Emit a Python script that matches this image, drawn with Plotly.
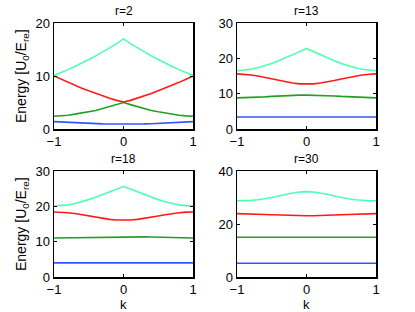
import plotly.graph_objects as go

k = [-1.0, -0.9, -0.8, -0.7, -0.6, -0.5, -0.4, -0.3, -0.2, -0.1, 0.0,
     0.1, 0.2, 0.3, 0.4, 0.5, 0.6, 0.7, 0.8, 0.9, 1.0]

titles = ["r=2", "r=13", "r=18", "r=30"]

# r = 2
r2_band1 = [1.4, 1.32, 1.25, 1.17, 1.1, 1.05, 1.0, 0.96, 0.93, 0.91, 0.9,
            0.91, 0.93, 0.96, 1.0, 1.05, 1.1, 1.17, 1.25, 1.32, 1.4]
r2_band2 = [2.4, 2.47, 2.6, 2.8, 3.0, 3.25, 3.5, 3.85, 4.2, 4.6, 5.0,
            4.6, 4.2, 3.85, 3.5, 3.25, 3.0, 2.8, 2.6, 2.47, 2.4]
r2_band3 = [10.0, 9.4, 8.8, 8.25, 7.7, 7.2, 6.7, 6.25, 5.8, 5.4, 5.1,
            5.4, 5.8, 6.25, 6.7, 7.2, 7.7, 8.25, 8.8, 9.4, 10.0]
r2_band4 = [10.1, 10.6, 11.2, 11.8, 12.4, 13.1, 13.8, 14.5, 15.3, 16.1, 17.0,
            16.1, 15.3, 14.5, 13.8, 13.1, 12.4, 11.8, 11.2, 10.6, 10.1]

# r = 13
r13_band1 = [3.4, 3.4, 3.4, 3.4, 3.4, 3.4, 3.4, 3.4, 3.4, 3.4, 3.4,
             3.4, 3.4, 3.4, 3.4, 3.4, 3.4, 3.4, 3.4, 3.4, 3.4]
r13_band2 = [8.8, 8.83, 8.9, 9.0, 9.1, 9.22, 9.35, 9.45, 9.55, 9.59, 9.6,
             9.59, 9.55, 9.45, 9.35, 9.22, 9.1, 9.0, 8.9, 8.83, 8.8]
r13_band3 = [15.6, 15.5, 15.3, 15.0, 14.6, 14.15, 13.7, 13.3, 13.0, 12.78, 12.7,
             12.78, 13.0, 13.3, 13.7, 14.15, 14.6, 15.0, 15.3, 15.5, 15.6]
r13_band4 = [16.5, 16.6, 16.9, 17.35, 17.9, 18.55, 19.3, 20.1, 21.0, 21.9, 22.8,
             21.9, 21.0, 20.1, 19.3, 18.55, 17.9, 17.35, 16.9, 16.6, 16.5]

# r = 18
r18_band1 = [4.0, 4.0, 4.0, 4.0, 4.0, 4.0, 4.0, 4.0, 4.0, 4.0, 4.0,
             4.0, 4.0, 4.0, 4.0, 4.0, 4.0, 4.0, 4.0, 4.0, 4.0]
r18_band2 = [11.05, 11.07, 11.1, 11.15, 11.2, 11.25, 11.3, 11.35, 11.4, 11.4, 11.4,
             11.4, 11.4, 11.35, 11.3, 11.25, 11.2, 11.15, 11.1, 11.07, 11.05]
r18_band3 = [18.4, 18.35, 18.2, 17.95, 17.6, 17.25, 16.9, 16.55, 16.3, 16.15, 16.1,
             16.15, 16.3, 16.55, 16.9, 17.25, 17.6, 17.95, 18.2, 18.35, 18.4]
r18_band4 = [20.1, 20.2, 20.4, 20.8, 21.3, 21.9, 22.6, 23.3, 24.1, 24.9, 25.6,
             24.9, 24.1, 23.3, 22.6, 21.9, 21.3, 20.8, 20.4, 20.2, 20.1]

# r = 30
r30_band1 = [5.2, 5.2, 5.2, 5.2, 5.2, 5.2, 5.2, 5.2, 5.2, 5.2, 5.2,
             5.2, 5.2, 5.2, 5.2, 5.2, 5.2, 5.2, 5.2, 5.2, 5.2]
r30_band2 = [15.0, 15.0, 15.0, 15.0, 15.0, 15.0, 15.0, 15.0, 15.0, 15.0, 15.0,
             15.0, 15.0, 15.0, 15.0, 15.0, 15.0, 15.0, 15.0, 15.0, 15.0]
r30_band3 = [23.9, 23.87, 23.8, 23.7, 23.6, 23.48, 23.35, 23.25, 23.15, 23.12, 23.1,
             23.12, 23.15, 23.25, 23.35, 23.48, 23.6, 23.7, 23.8, 23.87, 23.9]
r30_band4 = [28.8, 28.8, 28.9, 29.15, 29.5, 30.0, 30.6, 31.2, 31.7, 32.05, 32.2,
             32.05, 31.7, 31.2, 30.6, 30.0, 29.5, 29.15, 28.9, 28.8, 28.8]

y_ranges = [[0, 20], [0, 30], [0, 30], [0, 40]]
y_ticks = [[0, 10, 20], [0, 10, 20, 30], [0, 10, 20, 30], [0, 20, 40]]
x_ticks = [-1, 0, 1]
x_ticktext = ["\u22121", "0", "1"]

panels = [
    [r2_band1, r2_band2, r2_band3, r2_band4],
    [r13_band1, r13_band2, r13_band3, r13_band4],
    [r18_band1, r18_band2, r18_band3, r18_band4],
    [r30_band1, r30_band2, r30_band3, r30_band4],
]
colors = ["#3355ff", "#22a022", "#ff1a1a", "#4dffb0"]

W, H = 415, 312
ml, mr, mt, mb = 54, 39, 23, 35
pw, ph = W - ml - mr, H - mt - mb
xdoms = [[0, (193 - ml) / pw], [(237 - ml) / pw, 1]]
ydoms = [[(H - mb - 129) / ph, 1], [0, (H - mb - 171) / ph]]

FAM = "Liberation Sans, Arial, sans-serif"
tfont = dict(family=FAM, size=13, color="black")

fig = go.Figure()
layout = {}
for i, bands in enumerate(panels):
    n = "" if i == 0 else str(i + 1)
    for b, c in zip(bands, colors):
        fig.add_trace(go.Scatter(x=k, y=b, mode="lines", line=dict(color=c, width=1.6),
                                 xaxis="x" + n, yaxis="y" + n, showlegend=False,
                                 hoverinfo="skip"))
    row, col = i // 2, i % 2
    layout["xaxis" + n] = dict(domain=xdoms[col], range=[-1, 1], tickvals=x_ticks,
                               ticktext=x_ticktext,
                               anchor="y" + n, showgrid=False, zeroline=False,
                               showline=True, linecolor="black", linewidth=1.5, mirror="ticks",
                               ticks="inside", ticklen=3, tickcolor="black", tickfont=tfont)
    layout["yaxis" + n] = dict(domain=ydoms[row], range=y_ranges[i], tickvals=y_ticks[i],
                               anchor="x" + n, showgrid=False, zeroline=False,
                               showline=True, linecolor="black", linewidth=1.5, mirror="ticks",
                               ticks="inside", ticklen=3, tickcolor="black", tickfont=tfont)

annotations = []
for i, t in enumerate(titles):
    row, col = i // 2, i % 2
    annotations.append(dict(text=t, x=sum(xdoms[col]) / 2, y=ydoms[row][1], xref="paper", yref="paper",
                            xanchor="center", yanchor="bottom", yshift=3, showarrow=False,
                            font=dict(family=FAM, size=12, color="black")))
    if row == 1:
        annotations.append(dict(text="k", x=sum(xdoms[col]) / 2, y=(H - mb - 296) / ph,
                                xref="paper", yref="paper", xanchor="center", yanchor="top",
                                showarrow=False, borderpad=0,
                                font=dict(family=FAM, size=13, color="black")))
    if col == 0:
        yc = (ydoms[row][0] + ydoms[row][1]) / 2
        annotations.append(dict(text="Energy [U<sub>0</sub>/E<sub>re</sub>]", x=(22 - ml) / pw, y=yc,
                                xref="paper", yref="paper", xanchor="center", yanchor="middle",
                                textangle=-90, showarrow=False,
                                font=dict(family=FAM, size=14, color="black")))

fig.update_layout(width=W, height=H, margin=dict(l=ml, r=mr, t=mt, b=mb),
                  plot_bgcolor="white", paper_bgcolor="white", annotations=annotations, **layout)
fig.write_html("out.html", config={"displayModeBar": False, "staticPlot": True},
               post_script="document.body.style.margin='0';document.body.style.overflow='hidden';")
